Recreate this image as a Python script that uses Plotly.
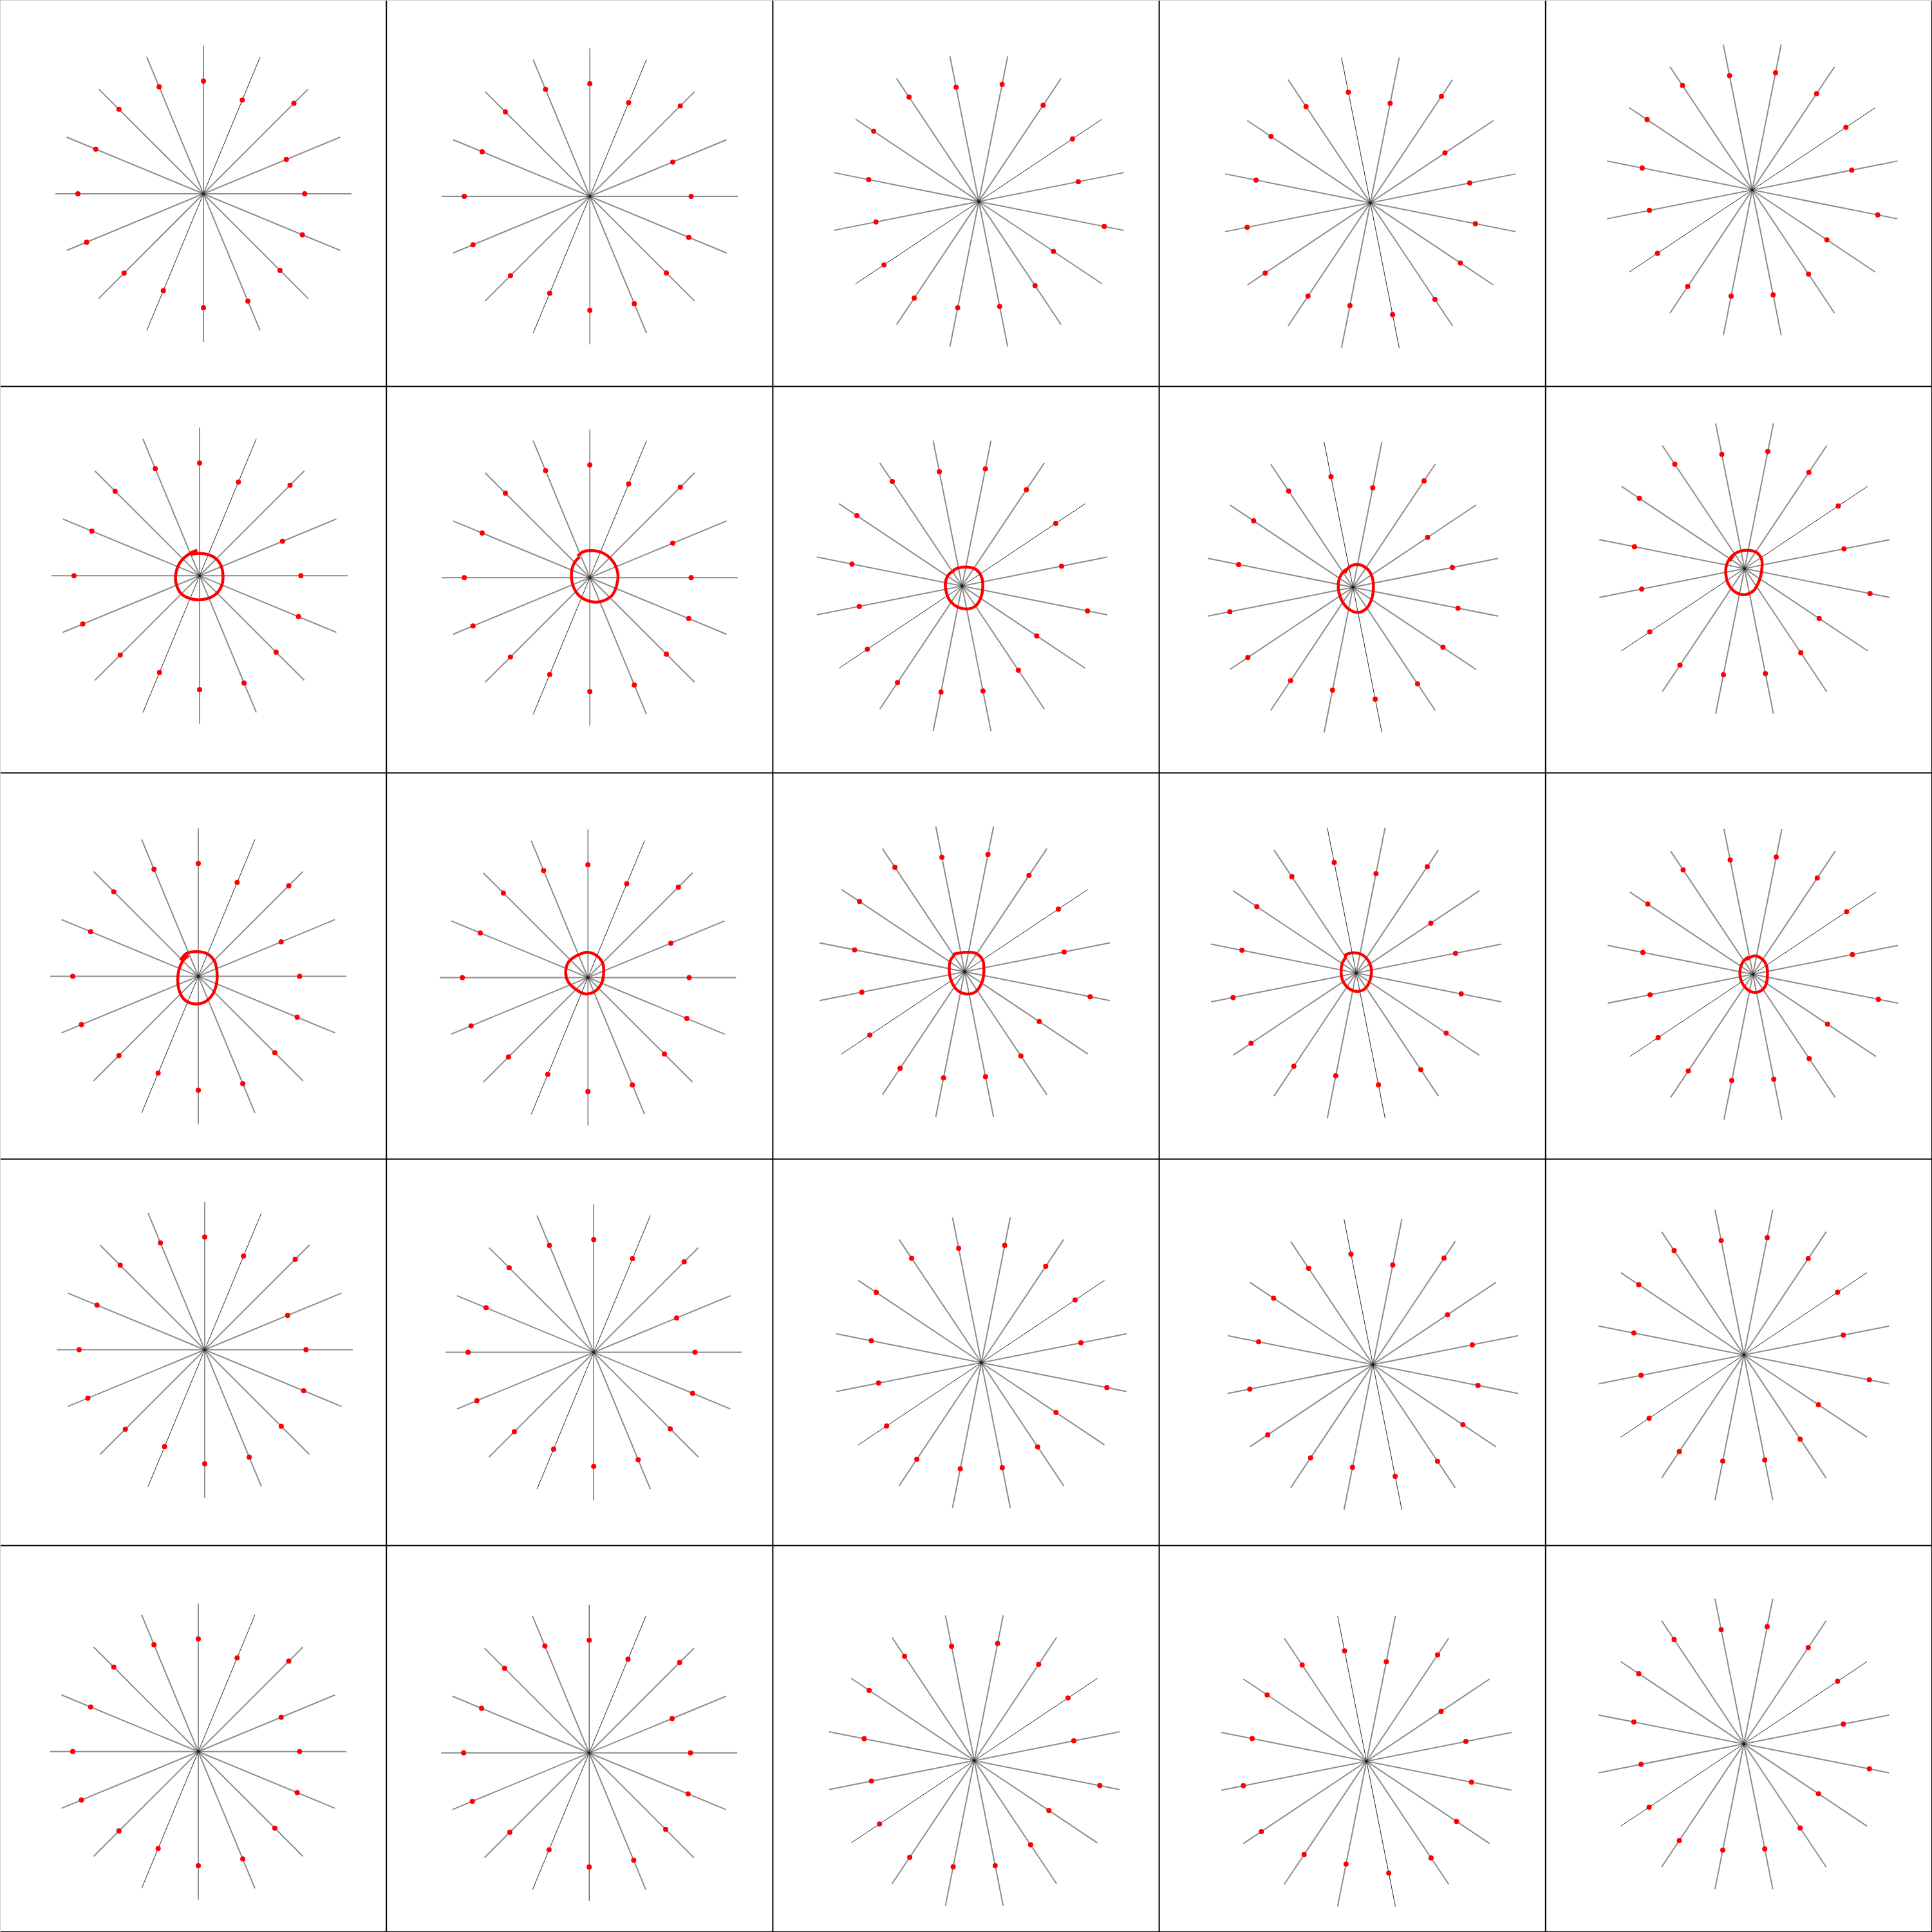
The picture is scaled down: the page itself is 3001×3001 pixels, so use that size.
import math
import plotly.graph_objects as go
from plotly.subplots import make_subplots

# red dot position on each of the 16 spokes (spoke length = 1),
# clockwise from the spoke pointing up in the first column
dot_radius = [0.761, 0.685, 0.864, 0.606, 0.684, 0.723, 0.731, 0.785,
              0.770, 0.708, 0.758, 0.854, 0.848, 0.787, 0.807, 0.782]

# star rotation per column (degrees, counter-clockwise)
col_rotation = [0.0, 0.0, -56.25, 11.25, -56.25]

# red loops around the centre in rows 2 and 3, keyed by (row, col)
loop_x = {
    (1, 0): [-0.016, -0.062, -0.122, -0.158, -0.158, -0.122, -0.052, 0.028, 0.098, 0.148, 0.158, 0.138, 0.088, 0.018, -0.042, -0.061],
    (1, 1): [-0.082, -0.048, 0.008, 0.088, 0.152, 0.188, 0.183, 0.148, 0.072, 0.008, -0.052, -0.102, -0.124, -0.118, -0.092, -0.068],
    (1, 2): [-0.060, -0.036, 0.020, 0.090, 0.130, 0.140, 0.124, 0.090, 0.030, -0.030, -0.084, -0.110, -0.108, -0.084, -0.052],
    (1, 3): [-0.056, -0.028, 0.028, 0.092, 0.128, 0.138, 0.124, 0.088, 0.038, -0.022, -0.072, -0.098, -0.092, -0.062, -0.035],
    (1, 4): [-0.100, -0.060, 0.010, 0.080, 0.116, 0.116, 0.100, 0.060, 0.000, -0.060, -0.106, -0.126, -0.120, -0.090, -0.061],
    (2, 0): [-0.120, -0.080, -0.010, 0.060, 0.108, 0.126, 0.122, 0.092, 0.040, -0.030, -0.096, -0.132, -0.138, -0.128, -0.096, -0.065],
    (2, 1): [-0.070, -0.010, 0.056, 0.100, 0.106, 0.090, 0.040, -0.020, -0.084, -0.136, -0.150, -0.130, -0.080, -0.070],
    (2, 2): [-0.070, -0.010, 0.070, 0.120, 0.130, 0.116, 0.070, 0.010, -0.050, -0.090, -0.104, -0.096, -0.064, -0.070],
    (2, 3): [-0.074, -0.030, 0.026, 0.076, 0.102, 0.092, 0.056, 0.006, -0.050, -0.090, -0.102, -0.094, -0.070, -0.074],
    (2, 4): [-0.044, 0.006, 0.056, 0.090, 0.098, 0.086, 0.046, -0.004, -0.054, -0.084, -0.084, -0.064, -0.034, -0.044],
}
loop_y = {
    (1, 0): [0.172, 0.152, 0.102, 0.026, -0.054, -0.124, -0.158, -0.160, -0.134, -0.070, 0.006, 0.082, 0.130, 0.150, 0.146, 0.139],
    (1, 1): [0.144, 0.173, 0.182, 0.166, 0.114, 0.034, -0.046, -0.122, -0.162, -0.162, -0.138, -0.082, -0.002, 0.068, 0.118, 0.138],
    (1, 2): [0.104, 0.118, 0.128, 0.114, 0.064, -0.006, -0.086, -0.136, -0.156, -0.142, -0.096, -0.026, 0.044, 0.084, 0.104],
    (1, 3): [0.096, 0.134, 0.154, 0.128, 0.074, -0.006, -0.086, -0.146, -0.170, -0.152, -0.096, -0.016, 0.060, 0.108, 0.126],
    (1, 4): [0.050, 0.104, 0.124, 0.110, 0.060, -0.010, -0.080, -0.150, -0.176, -0.160, -0.110, -0.040, 0.030, 0.080, 0.104],
    (2, 0): [0.107, 0.154, 0.166, 0.152, 0.104, 0.034, -0.056, -0.130, -0.176, -0.186, -0.156, -0.086, -0.006, 0.054, 0.114, 0.139],
    (2, 1): [0.150, 0.170, 0.150, 0.096, 0.026, -0.044, -0.098, -0.110, -0.078, -0.024, 0.042, 0.106, 0.146, 0.150],
    (2, 2): [0.120, 0.130, 0.126, 0.082, 0.006, -0.074, -0.138, -0.150, -0.124, -0.064, 0.006, 0.076, 0.122, 0.120],
    (2, 3): [0.120, 0.136, 0.130, 0.092, 0.026, -0.054, -0.108, -0.124, -0.104, -0.054, 0.006, 0.066, 0.112, 0.120],
    (2, 4): [0.100, 0.124, 0.108, 0.064, -0.006, -0.076, -0.116, -0.120, -0.086, -0.026, 0.044, 0.088, 0.114, 0.100],
}

# where the star centre sits inside each 600px panel (px from left, px from top)
centres = [
    [(316, 301), (316, 305), (320, 313), (328, 315), (321, 295)],
    [(310, 294), (316, 297), (294, 310), (301, 312), (309, 283)],
    [(308, 316), (313, 318), (298, 309), (306, 311), (322, 313)],
    [(318, 296), (322, 300), (324, 316), (332, 319), (308, 304)],
    [(308, 320), (315, 322), (313, 334), (322, 335), (308, 308)],
]
PANEL = 600.2
SPOKE_PX = 230.0

fig = make_subplots(rows=5, cols=5, horizontal_spacing=0, vertical_spacing=0)

for r in range(5):
    for c in range(5):
        rot = col_rotation[c]
        angles = [math.radians(90 - 22.5 * k + rot) for k in range(16)]

        # 8 diameters; the first one (and the second in the two left columns) renders darker
        dark = [0, 1] if c < 2 else [0]
        for group, colour, width in (("light", "rgba(0,0,0,0.45)", 2.0), ("dark", "rgba(30,30,30,0.95)", 1.0)):
            xs, ys = [], []
            for k in range(8):
                if (k in dark) != (group == "dark"):
                    continue
                a = angles[k]
                xs += [-math.cos(a), math.cos(a), None]
                ys += [-math.sin(a), math.sin(a), None]
            fig.add_trace(go.Scatter(x=xs, y=ys, mode="lines",
                                     line=dict(color=colour, width=width),
                                     hoverinfo="skip"), row=r + 1, col=c + 1)

        fig.add_trace(go.Scatter(
            x=[rad * math.cos(a) for rad, a in zip(dot_radius, angles)],
            y=[rad * math.sin(a) for rad, a in zip(dot_radius, angles)],
            mode="markers", marker=dict(color="#ff0000", size=8),
        ), row=r + 1, col=c + 1)

        if (r, c) in loop_x:
            fig.add_trace(go.Scatter(x=loop_x[(r, c)], y=loop_y[(r, c)], mode="lines",
                                     line=dict(color="#ff0000", width=4.5, shape="spline", smoothing=1.0)),
                          row=r + 1, col=c + 1)

        cx, cy = centres[r][c]
        fig.update_xaxes(range=[-cx / SPOKE_PX, (PANEL - cx) / SPOKE_PX], visible=False,
                         row=r + 1, col=c + 1)
        fig.update_yaxes(range=[-(PANEL - cy) / SPOKE_PX, cy / SPOKE_PX], visible=False,
                         row=r + 1, col=c + 1)

# panel frames
shapes = []
for i in range(1, 6):
    p = i / 5
    shapes.append(dict(type="line", xref="paper", yref="paper", x0=p, x1=p, y0=0, y1=1,
                       line=dict(color="black", width=2)))
    shapes.append(dict(type="line", xref="paper", yref="paper", x0=0, x1=1, y0=1 - p, y1=1 - p,
                       line=dict(color="black", width=2)))
shapes.append(dict(type="line", xref="paper", yref="paper", x0=0, x1=0, y0=0, y1=1,
                   line=dict(color="#cccccc", width=2)))
shapes.append(dict(type="line", xref="paper", yref="paper", x0=0, x1=1, y0=1, y1=1,
                   line=dict(color="#cccccc", width=2)))

fig.update_layout(width=3001, height=3001, margin=dict(l=0, r=0, t=0, b=0),
                  showlegend=False, plot_bgcolor="white", paper_bgcolor="white",
                  shapes=shapes)

# drop the browser's default page margin so the figure starts at the corner
fig.write_html("out.html", config={"displayModeBar": False},
               post_script="document.body.style.margin='0px';")
